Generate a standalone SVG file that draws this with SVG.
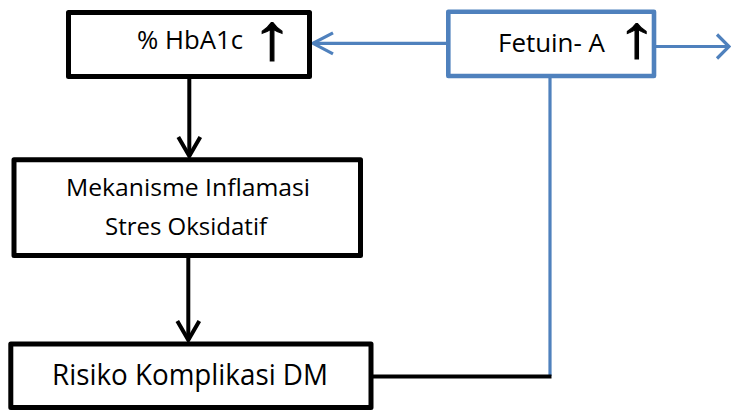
<svg xmlns="http://www.w3.org/2000/svg" width="731" height="410" viewBox="0 0 731 410">
  <style>
    .box { fill: #ffffff; stroke: #000000; stroke-width: 5; stroke-linejoin: round; }
    .boxBlue { fill: #ffffff; stroke: #4F81BD; stroke-width: 4.6; stroke-linejoin: round; }
    .lbl { font-family: "Open Sans", "Noto Sans", "Liberation Sans", sans-serif; fill: #000000; }
    .up { font-family: "Liberation Sans", sans-serif; font-weight: bold; font-size: 40px; fill: #000000; stroke: #000000; stroke-width: 0.6; }
    .blk { fill: none; stroke: #000000; stroke-width: 4; }
    .blu { fill: none; stroke: #4F81BD; stroke-width: 3.2; }
  </style>
  <defs>
    <marker id="arrBlack" markerUnits="userSpaceOnUse" viewBox="-22 -13 25 26" refX="0" refY="0" markerWidth="25" markerHeight="26" orient="auto" overflow="visible">
      <path d="M-19,-11 L0,0 L-19,11" fill="none" stroke="#000000" stroke-width="4"/>
    </marker>
    <marker id="arrBlue" markerUnits="userSpaceOnUse" viewBox="-22 -13 25 26" refX="0" refY="0" markerWidth="25" markerHeight="26" orient="auto" overflow="visible">
      <path d="M-20,-10.5 L0,0 L-20,10.5" fill="none" stroke="#4F81BD" stroke-width="3.2"/>
    </marker>
    <marker id="arrBlueR" markerUnits="userSpaceOnUse" viewBox="-22 -13 25 26" refX="0" refY="0" markerWidth="25" markerHeight="26" orient="auto" overflow="visible">
      <path d="M-12,-12 L0,0 L-12,12" fill="none" stroke="#4F81BD" stroke-width="3.2"/>
    </marker>
  </defs>

  <g id="connectors">
    <path class="blu" d="M446,43.3 L313,43.3" marker-end="url(#arrBlue)"/>
    <path class="blu" d="M656,46.5 L729,46.5" marker-end="url(#arrBlueR)"/>
    <path class="blu" d="M550,78 L550,376" stroke-width="3.6"/>
    <path class="blk" d="M372,376.5 L551.5,376.5"/>
    <path class="blk" d="M189.3,79 L189.3,156" marker-end="url(#arrBlack)"/>
    <path class="blk" d="M188.3,258 L188.3,340" marker-end="url(#arrBlack)"/>
  </g>

  <g id="node-hba1c">
    <rect class="box" x="68.5" y="12.5" width="241" height="64"/>
    <text class="lbl" x="137" y="49" font-size="25" textLength="106" lengthAdjust="spacingAndGlyphs">% HbA1c</text>
    <text class="up" transform="translate(272,58.5) scale(2.1,1.62)" x="0" y="0" text-anchor="middle">↑</text>
  </g>

  <g id="node-fetuin">
    <rect class="boxBlue" x="448.3" y="11.7" width="205.7" height="64.3"/>
    <text class="lbl" x="498" y="52" font-size="26" textLength="107" lengthAdjust="spacingAndGlyphs">Fetuin- A</text>
    <text class="up" transform="translate(636.5,56.5) scale(2.0,1.5)" x="0" y="0" text-anchor="middle">↑</text>
  </g>

  <g id="node-mekanisme">
    <rect class="box" x="14" y="159.7" width="346.5" height="95.8"/>
    <text class="lbl" x="66" y="196" font-size="24" textLength="244" lengthAdjust="spacingAndGlyphs">Mekanisme Inflamasi</text>
    <text class="lbl" x="105" y="235" font-size="24" textLength="162" lengthAdjust="spacingAndGlyphs">Stres Oksidatif</text>
  </g>

  <g id="node-risiko">
    <rect class="box" x="10.8" y="344" width="360.2" height="63.5"/>
    <text class="lbl" x="52" y="385" font-size="29" textLength="276" lengthAdjust="spacingAndGlyphs">Risiko Komplikasi DM</text>
  </g>
</svg>
